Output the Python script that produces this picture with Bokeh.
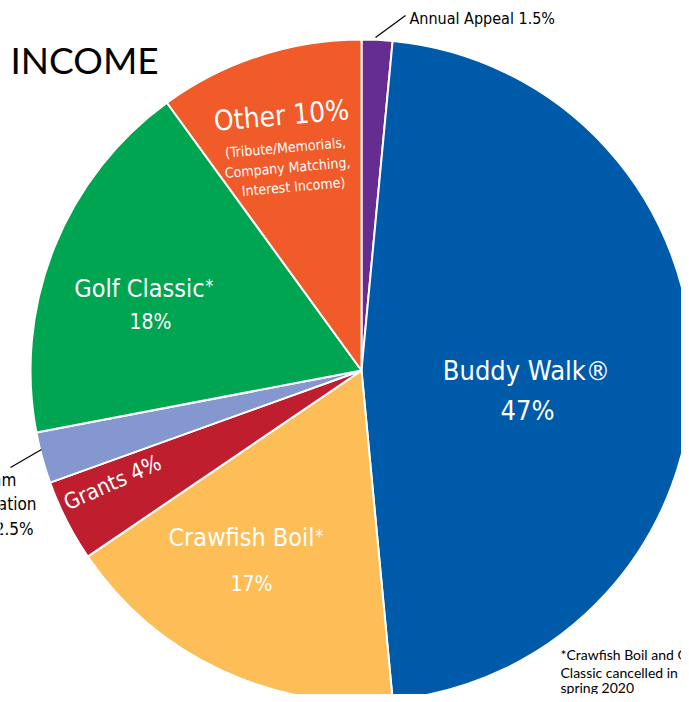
import numpy as np
from bokeh.plotting import figure
from bokeh.models import Range1d, ColumnDataSource
from bokeh.core.properties import value
from bokeh.embed import file_html
from bokeh.resources import INLINE

# ---- data ----
categories = ["Annual Appeal", "Buddy Walk®", "Crawfish Boil", "Grants",
              "Program Registration", "Golf Classic", "Other"]
percents = [1.5, 47, 17, 4, 2.5, 18, 10]
colors = ["#662D91", "#005AAA", "#FDBE57", "#BE1E2D", "#8497CF", "#00A551", "#F15A29"]

W, H = 681, 694
def Y(py):
    return H - py

p = figure(width=W, height=H, output_backend="svg", toolbar_location=None,
           x_range=Range1d(0, W), y_range=Range1d(0, H),
           min_border=0, outline_line_color=None)
p.axis.visible = False
p.grid.visible = False
p.background_fill_color = "white"
p.border_fill_color = "white"

frac = np.array(percents, dtype=float) / sum(percents)
cum = np.concatenate([[0], np.cumsum(frac)])
start = np.pi / 2 - 2 * np.pi * cum[:-1]
end = np.pi / 2 - 2 * np.pi * cum[1:]
src = ColumnDataSource(dict(cat=categories, pct=percents, color=colors,
                            start=start, end=end))
cx, cy, R = 361, Y(370), 331
p.wedge(x=cx, y=cy, radius=R, start_angle="start", end_angle="end",
        direction="clock", fill_color="color", line_color="white",
        line_width=2, source=src)

COND = value("'DejaVu Sans Condensed', 'Liberation Sans Narrow', 'Roboto Condensed', Roboto, sans-serif")
GEO = value("Lato")

def txt(x, y, s, size, color="white", font=COND, align="center", angle=0.0,
        baseline="middle"):
    p.text(x=[x], y=[Y(y)], text=[s], text_font=font, text_font_size=f"{size}px",
           text_color=color, text_align=align, text_baseline=baseline, angle=angle)

# Title
txt(10, 59, "INCOME", 37, color="black", font=GEO, align="left")

# Annual Appeal with leader
p.line(x=[375, 405], y=[Y(37), Y(15)], line_color="black", line_width=1.2)
txt(409, 18, f"{categories[0]} {percents[0]}%", 16, color="black", align="left")

# Buddy Walk
txt(526, 370, categories[1], 27)
txt(527, 410, f"{percents[1]}%", 27)

# Crawfish Boil
txt(314, 537, "Crawfish Boil", 25, align="right")
txt(315, 535, "*", 17, align="left")
txt(251, 583, f"{percents[2]}%", 21)

# Grants (rotated)
txt(112, 482, f"{categories[3]} {percents[3]}%", 22, angle=np.deg2rad(24))

# Program Registration (cut at left edge, as in the reference)
p.line(x=[41, 10], y=[Y(449), Y(467)], line_color="black", line_width=1.2)
txt(16, 479, "Program", 17, color="black", align="right")
txt(36, 503, "Registration", 17, color="black", align="right")
txt(33, 528, f"{percents[4]}%", 17, color="black", align="right")

# Golf Classic
txt(204, 288, "Golf Classic", 25, align="right")
txt(205, 285, "*", 17, align="left")
txt(150, 321, f"{percents[5]}%", 21)

# Other
rot = np.deg2rad(5)
txt(281, 115, f"{categories[6]} {percents[6]}%", 28, angle=rot)
txt(285, 147, "(Tribute/Memorials,", 14, angle=rot)
txt(287, 167, "Company Matching,", 14, angle=rot)
txt(293, 186, "Interest Income)", 14, angle=rot)

# Footnote
txt(560, 654, "*Crawfish Boil and Golf", 14, color="black", font=GEO, align="left")
txt(560, 672, "Classic cancelled in", 14, color="black", font=GEO, align="left")
txt(560, 687, "spring 2020", 14, color="black", font=GEO, align="left")

open("out.html", "w").write(file_html(p, INLINE))
